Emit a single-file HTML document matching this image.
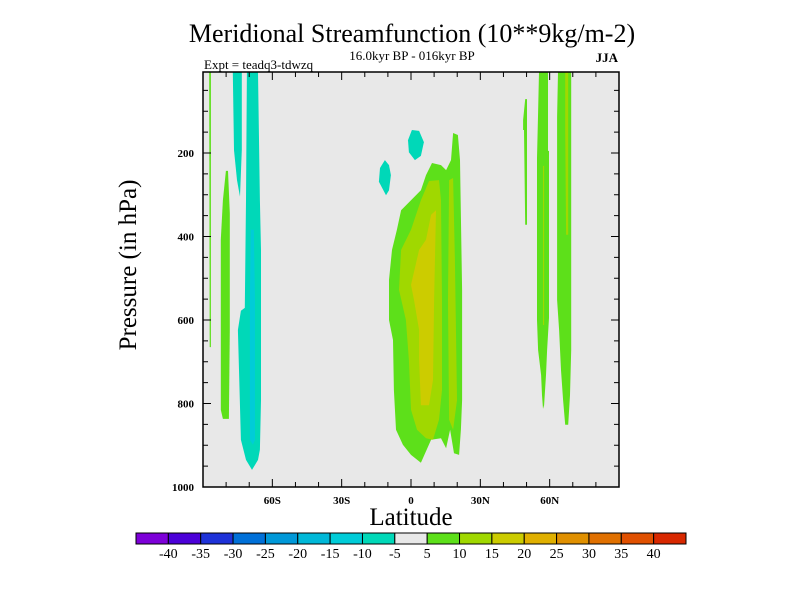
<!DOCTYPE html>
<html><head><meta charset="utf-8"><style>
body{margin:0;background:#fff;}
svg text{font-family:"Liberation Serif",serif;}
</style></head><body>
<svg width="800" height="600" xmlns="http://www.w3.org/2000/svg" id="chart">
<text x="412" y="42" font-size="26" text-anchor="middle">Meridional Streamfunction (10**9kg/m-2)</text>
<text x="412" y="60" font-size="13" text-anchor="middle">16.0kyr BP - 016kyr BP</text>
<text x="204" y="69" font-size="13">Expt = teadq3-tdwzq</text>
<text x="618" y="62" font-size="13" font-weight="bold" text-anchor="end">JJA</text>
<rect x="203" y="72" width="416" height="415" fill="#e8e8e8"/>
<g id="fields"></g>
<g id="axes"></g>
<rect x="203" y="72" width="416" height="415" fill="none" stroke="#000" stroke-width="1.5"/>
<text x="411" y="525" font-size="25" text-anchor="middle">Latitude</text>
<text transform="translate(136,265) rotate(-90)" font-size="25" text-anchor="middle">Pressure (in hPa)</text>
<g id="colorbar"></g>
</svg>
<script>
const levels=[-40,-35,-30,-25,-20,-15,-10,-5,5,10,15,20,25,30,35,40];
const levelColors=["#7d00d8","#4b00d8","#1e32d8","#0070d8","#0098d8","#00b8d8","#00ccd8","#00d8b8","#e8e8e8","#5de01a","#a0d800","#cccc00","#e0b000","#e09000","#e07000","#e05000","#d82800"];
const yTicks=[200,400,600,800,1000];
const xTicks=[-60,-30,0,30,60];
const xTickLabels=["60S","30S","0","30N","60N"];
// contour regions: lower bound of band and [lat,pressure] outline
const regionLevels=[-10,-10,-15,5,5,-10,-10,5,10,10,15,5,5,10,5,10];
const regionOutlines=[
[[-77.1,6],[-73.2,6],[-73.2,193],[-74,305],[-75.3,265],[-76.6,193]],
[[-71,6],[-66.2,6],[-65.4,313],[-64.9,432],[-64.9,792],[-65.4,911],[-66.2,935],[-68.8,959],[-71.4,935],[-73.6,887],[-74.9,624],[-73.6,578],[-71.9,571],[-71.4,313]],
[[-69.3,384],[-68,384],[-67.5,552],[-67.5,887],[-68.4,899],[-69.7,887],[-69.7,552]],
[[-80.1,243],[-79.2,243],[-78.4,344],[-78.4,624],[-78.8,837],[-81.4,837],[-82.3,815],[-82.3,408],[-81.4,313]],
[[-87.3,6],[-86.6,6],[-86.6,665],[-87.1,665]],
[[0.4,145],[3.5,147],[5.6,174],[4.3,207],[1.7,217],[-0.9,198],[-1.3,169]],
[[-11.3,217],[-9.5,229],[-8.7,253],[-9.5,289],[-10.8,301],[-13.9,269],[-13.4,236]],
[[-4.3,337],[0,313],[4.3,289],[6.5,253],[9.1,224],[13,229],[15.2,241],[17.3,217],[18.2,152],[20.3,157],[21.2,217],[22.1,528],[22.1,792],[21.6,863],[20.8,923],[18.6,919],[16.9,863],[15.2,907],[13,883],[8.7,887],[4.3,942],[0,923],[-3.5,899],[-6.5,863],[-7.4,768],[-7.8,648],[-9.5,600],[-9.5,504],[-8.2,432],[-6.1,384]],
[[7.8,267],[12.1,265],[13,313],[13.4,552],[13.4,768],[12.1,839],[9.5,887],[6.5,883],[2.6,863],[0,815],[-0.9,696],[-2.2,600],[-5.2,528],[-4.3,432],[0,384],[4.3,313]],
[[16.5,265],[18.2,260],[19,456],[19.9,792],[18.2,863],[16.5,839],[16,552]],
[[8.7,348],[10.8,337],[10,552],[9.5,744],[7.8,804],[4.3,804],[3.5,696],[3.5,624],[1.3,552],[0,516],[3.5,432],[6.5,408]],
[[49.4,71],[50.2,71],[50.2,372],[49.4,372],[48.9,145],[48.5,145],[48.5,121]],
[[55.4,6],[59.3,6],[59.3,195],[59.7,195],[59.7,595],[58.9,672],[58.4,732],[57.6,804],[57.1,813],[56.7,780],[56.3,732],[55,672],[54.5,600],[54.5,212],[55,102]],
[[57.1,231],[57.6,231],[57.6,612],[57.1,612]],
[[63.6,6],[69.3,6],[69.3,672],[68.8,780],[68,851],[66.7,851],[65.8,792],[64.9,720],[64.1,624],[63.2,552],[63.2,114]],
[[66.7,6],[68,6],[68,396],[67.1,396],[66.7,145]]
];
const NS="http://www.w3.org/2000/svg";
const X0=203,X1=619,Y0=72,Y1=487,PMIN=6,PMAX=1000;
function xs(lat){return X0+(lat+90)/180*(X1-X0);}
function ys(p){return Y0+(p-PMIN)/(PMAX-PMIN)*(Y1-Y0);}
function colorFor(v){let i=0;levels.forEach(l=>{if(l<=v)i++;});return levelColors[i];}
function mk(tag,attrs,parent){const e=document.createElementNS(NS,tag);for(const k in attrs)e.setAttribute(k,attrs[k]);parent.appendChild(e);return e;}
const fg=document.getElementById('fields');
regionOutlines.forEach((pts,i)=>{
  const el=mk('polygon',{points:pts.map(p=>xs(p[0]).toFixed(1)+','+ys(p[1]).toFixed(1)).join(' '),fill:colorFor(regionLevels[i])},fg);
  
  
});
const ax=document.getElementById('axes');
for(let p=50;p<=1000;p+=50){
  const y=ys(p);const major=p%200===0;const L=major?8:5;
  const t1=mk('line',{x1:X0,y1:y,x2:X0+L,y2:y,stroke:'#000','stroke-width':1},ax);
  
  
  const t2=mk('line',{x1:X1,y1:y,x2:X1-L,y2:y,stroke:'#000','stroke-width':1},ax);
  
  
}
yTicks.forEach(p=>{
  const t=mk('text',{x:X0-9,y:ys(p)+4,'font-size':11,'font-weight':'bold','text-anchor':'end'},ax);
  t.textContent=p;
  
  
});
for(let l=-80;l<=80;l+=10){
  const x=xs(l);const L=(l%30===0)?8:5;
  const a=mk('line',{x1:x,y1:Y1,x2:x,y2:Y1-L,stroke:'#000','stroke-width':1},ax);
  
  
  const b=mk('line',{x1:x,y1:Y0,x2:x,y2:Y0+L,stroke:'#000','stroke-width':1},ax);
  
  
}
xTicks.forEach((l,i)=>{
  const t=mk('text',{x:xs(l),y:Y1+17,'font-size':11,'font-weight':'bold','text-anchor':'middle'},ax);
  t.textContent=xTickLabels[i];
  
  
});
const cb=document.getElementById('colorbar');
const CB0=136,CB1=686,CBY=533,CBH=11,w=(CB1-CB0)/levelColors.length;
levelColors.forEach((c,i)=>{
  const r=mk('rect',{x:CB0+i*w,y:CBY,width:w,height:CBH,fill:c,stroke:'#000','stroke-width':1},cb);
  
  
});
levels.forEach((v,i)=>{
  const t=mk('text',{x:CB0+(i+1)*w,y:CBY+CBH+14,'font-size':14,'text-anchor':'middle'},cb);
  t.textContent=v;
  
  
});
</script>
</body></html>
